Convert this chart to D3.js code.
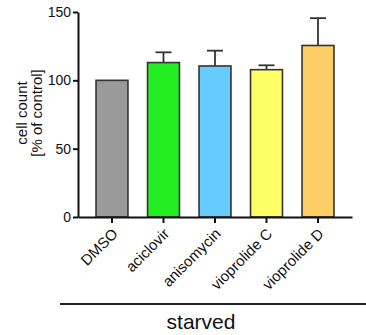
<!DOCTYPE html>
<html>
<head>
<meta charset="utf-8">
<script src="https://cdn.jsdelivr.net/npm/d3@7"></script>
<style>
  body { margin: 0; background: #fff; }
  text { font-family: Arial, "Liberation Sans", sans-serif; fill: #111; }
</style>
</head>
<body>
<div id="graph"></div>
<script>
// data
var categories = ["DMSO", "aciclovir", "anisomycin", "vioprolide C", "vioprolide D"];
var means = [100, 113, 110.5, 107.8, 125.5];
var errors = [0, 7.5, 11.2, 3.2, 20];
var colors = ["#9a9a9a", "#22ee22", "#66ccff", "#ffff66", "#ffcc66"];
var yTicks = [0, 50, 100, 150];
var groupLabel = "starved";

var W = 366, H = 335;
var plotLeft = 78, plotRight = 352, plotTop = 12, plotBottom = 217;

var svg = d3.select("#graph").append("svg")
    .attr("width", W)
    .attr("height", H);

var x = d3.scaleBand().domain(categories).range([plotLeft, plotRight])
    .paddingInner(0.38).paddingOuter(0.35);
var y = d3.scaleLinear().domain([0, 150]).range([plotBottom, plotTop]);

// error bars (upper only)
var bars = svg.append("g");
categories.forEach(function(c, i) {
  if (errors[i] > 0) {
    var cx = x(c) + x.bandwidth() / 2;
    bars.append("line")
        .attr("x1", cx).attr("x2", cx)
        .attr("y1", y(means[i])).attr("y2", y(means[i] + errors[i]))
        .attr("stroke", "#333").attr("stroke-width", 1.8);
    bars.append("line")
        .attr("x1", cx - 8).attr("x2", cx + 8)
        .attr("y1", y(means[i] + errors[i])).attr("y2", y(means[i] + errors[i]))
        .attr("stroke", "#333").attr("stroke-width", 1.8);
  }
});

bars.selectAll("rect")
    .data(categories)
  .enter().append("rect")
    .attr("x", function(d) { return x(d); })
    .attr("y", function(d, i) { return y(means[i]); })
    .attr("width", x.bandwidth())
    .attr("height", function(d, i) { return y(0) - y(means[i]); })
    .attr("fill", function(d, i) { return colors[i]; })
    .attr("stroke", "#333")
    .attr("stroke-width", 1.6);

// y axis
var yAxis = svg.append("g")
    .attr("transform", "translate(" + plotLeft + ",0)")
    .call(d3.axisLeft(y).tickValues(yTicks).tickSize(5).tickSizeOuter(0));
yAxis.select(".domain").attr("stroke", "#111").attr("stroke-width", 2);
yAxis.selectAll(".tick line").attr("stroke", "#111").attr("stroke-width", 2);
yAxis.selectAll(".tick text").style("font-size", "14px").attr("x", -7);

// x axis
var xAxis = svg.append("g")
    .attr("transform", "translate(0," + plotBottom + ")")
    .call(d3.axisBottom(x).tickSize(6).tickSizeOuter(0));
xAxis.select(".domain").attr("stroke", "#111").attr("stroke-width", 2);
xAxis.selectAll(".tick line").attr("stroke", "#111").attr("stroke-width", 2);
xAxis.selectAll(".tick text")
    .style("font-size", "15px")
    .attr("text-anchor", "end")
    .attr("dy", "0.35em")
    .attr("transform", "translate(3,14) rotate(-45)")
    .attr("x", 0).attr("y", 0);

// y label
var yl = svg.append("text")
    .attr("transform", "translate(27,113) rotate(-90)")
    .attr("text-anchor", "middle")
    .style("font-size", "15px");
yl.append("tspan").attr("x", 0).attr("y", 0).text("cell count");
yl.append("tspan").attr("x", 0).attr("y", 15).text("[% of control]");

// group line + label
svg.append("line")
    .attr("x1", 60).attr("x2", W)
    .attr("y1", 304).attr("y2", 304)
    .attr("stroke", "#222").attr("stroke-width", 2);
svg.append("text")
    .attr("x", 201).attr("y", 329)
    .attr("text-anchor", "middle")
    .style("font-size", "21px")
    .text(groupLabel);
</script>
</body>
</html>
